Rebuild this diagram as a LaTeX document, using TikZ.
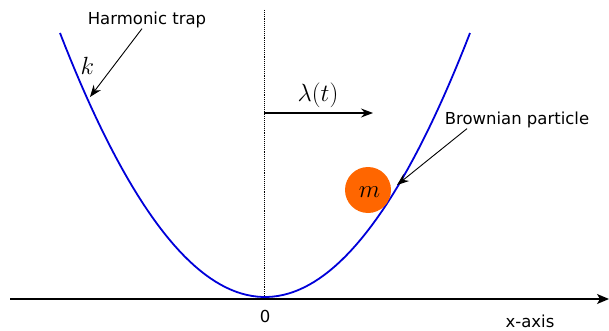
\documentclass[tikz,border=0pt]{standalone}
\usepackage{fontspec}
\setsansfont{DejaVu Sans}
\usetikzlibrary{arrows.meta}
\definecolor{ballorange}{HTML}{FF6600}
\tikzset{pin/.style={-{Stealth[length=12pt, width=9pt, inset=4pt]}, line width=0.9pt},
  lbl/.style={font=\sffamily\fontsize{16.5}{19}\selectfont, anchor=base, inner sep=0pt},
  sym/.style={font=\fontsize{26}{30}\selectfont, anchor=base, inner sep=0pt}}

\begin{document}
\begin{tikzpicture}[x=1pt, y=-1pt]
  \useasboundingbox (0,0) rectangle (609,331);
  % axes
  \coordinate (xl) at (10,299);
  \coordinate (xr) at (609,299);
  \draw[-{Stealth[length=12pt, width=10pt, inset=3pt]}, line width=1.3pt] (xl) -- (xr);
  \coordinate (ytop) at (264,10);
  \coordinate (ybot) at (264,298);
  \draw[densely dotted, line width=0.9pt] (ytop) -- (ybot);
  % trap
  \draw[blue!85!black, line width=1.8pt, domain=-205:205, samples=80]
    plot ({265+\x}, {297-264*(\x/205)^2});
  \node[lbl] (zero) at (265,322) {0};
  \node[lbl] (xax) at (530,327) {x-axis};
  \node[lbl] (trap) at (147,25) {Harmonic trap};
  \node[sym] (kk) at (87.5,75) {$k$};
  \coordinate (kpt) at (90,97);
  \draw[pin] ([xshift=-5pt]trap.south) -- (kpt);
  % drive
  \coordinate (lam0) at (264,113);
  \coordinate (lam1) at (373,113);
  \draw[pin, line width=1.2pt] (lam0) -- (lam1);
  \node[sym] (lam) at (318,102) {$\lambda(t)$};
  % particle
  \node[circle, fill=ballorange, minimum size=46pt, inner sep=0pt] (ball) at (368,190) {};
  \node[sym] (mm) at (369.5,197) {$m$};
  \node[lbl] (brown) at (517,125) {Brownian particle};
  \coordinate (bpt) at (397,185);
  \draw[pin] ([xshift=-50pt]brown.south) -- (bpt);
\end{tikzpicture}
\end{document}
